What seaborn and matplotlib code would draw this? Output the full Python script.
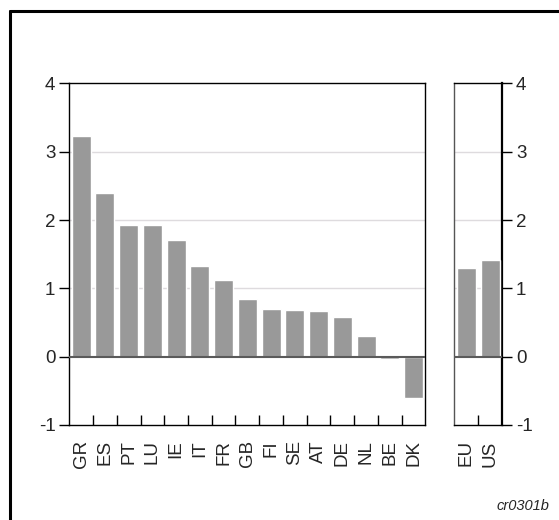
import seaborn as sns
import matplotlib

matplotlib.use("Agg")
import matplotlib.pyplot as plt
from matplotlib.lines import Line2D

countries = ["GR", "ES", "PT", "LU", "IE", "IT", "FR", "GB", "FI", "SE", "AT", "DE", "NL", "BE", "DK"]
country_values = [3.23, 2.40, 1.93, 1.93, 1.71, 1.33, 1.12, 0.84, 0.70, 0.68, 0.67, 0.58, 0.30, -0.04, -0.60]
regions = ["EU", "US"]
region_values = [1.30, 1.42]
y_ticks = [-1, 0, 1, 2, 3, 4]

sns.set_style("white")
plt.rcParams["font.family"] = ["Liberation Sans", "DejaVu Sans"]

bar_color = "#999999"
grid_color = "#dedbde"
zero_color = "#5a5a5a"

fig = plt.figure(figsize=(5.59, 5.20), dpi=100)
ax1 = fig.add_axes([0.124, 0.1827, 0.637, 0.657])
ax2 = fig.add_axes([0.8127, 0.1827, 0.0853, 0.657])


def draw_panel(ax, labels, values):
    sns.barplot(x=labels, y=values, color=bar_color, saturation=1, width=0.8, ax=ax, zorder=3)
    n = len(labels)
    ax.set_xlim(-0.5, n - 0.5)
    ax.set_ylim(-1, 4)
    ax.set_yticks(y_ticks)
    ax.set_yticklabels([str(t) for t in y_ticks])
    for g in [1, 2, 3]:
        ax.axhline(g, color=grid_color, lw=1, zorder=1)
    ax.axhline(0, color=zero_color, lw=1.5, zorder=4)
    ax.set_xticks(range(n))
    ax.set_xticklabels(labels, rotation=90)
    ax.set_xticks([k - 0.5 for k in range(1, n)], minor=True)
    ax.tick_params(axis="x", which="major", bottom=True, length=0, pad=11, labelsize=13.5)
    ax.tick_params(axis="x", which="minor", bottom=True, direction="in", length=7, width=1, color="black")
    ax.tick_params(axis="y", which="major", left=True, direction="out", length=7, width=1,
                   color="black", pad=3, labelsize=13.5)
    for s in ax.spines.values():
        s.set_color("black")
        s.set_linewidth(1)


draw_panel(ax1, countries, country_values)
draw_panel(ax2, regions, region_values)

ax2.yaxis.tick_right()
ax2.tick_params(axis="y", right=True, left=False, direction="out", length=7, width=1, pad=3)
ax2.spines["left"].set_color("#555555")
ax2.spines["right"].set_linewidth(1.6)

# frame lines (left and top only)
fig.add_artist(Line2D([9.5 / 559, 9.5 / 559], [0, 1 - 11 / 520], color="black", lw=2.2))
fig.add_artist(Line2D([9.5 / 559, 1], [1 - 11 / 520, 1 - 11 / 520], color="black", lw=2.2))

fig.text(0.982, 0.0275, "cr0301b", ha="right", va="center", fontsize=10.5, style="italic")

plt.savefig("out.png", dpi=100)
plt.close()
